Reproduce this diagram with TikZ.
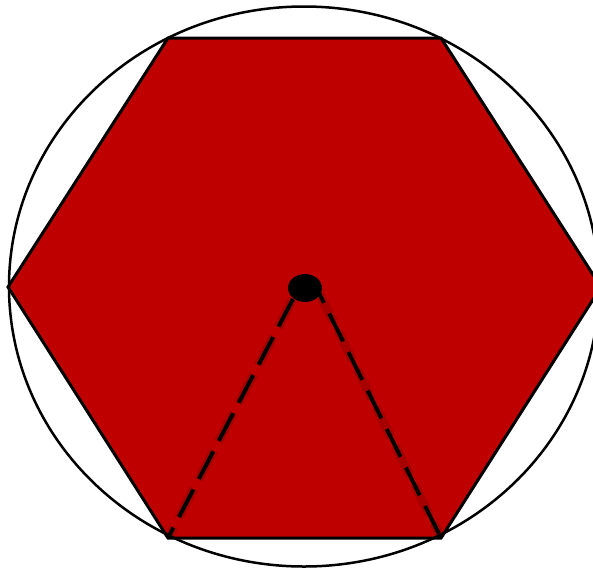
\documentclass[tikz,border=0pt]{standalone}
\usetikzlibrary{calc}
\definecolor{hexred}{RGB}{190,0,0}
\tikzset{
  hexbox/.style={fill=hexred, draw=black, line width=3pt, line join=miter},
  ringline/.style={draw=black, line width=2.5pt},
  dashline/.style={draw=black, line width=4pt, dash pattern=on 31pt off 12pt},
  dashshade/.style={draw=black, draw opacity=0.12, line width=9pt, dash pattern=on 33pt off 10pt, dash phase=1pt},
  centerdot/.style={fill=black}
}
\begin{document}
\begin{tikzpicture}[x=1pt,y=-1pt]
\useasboundingbox (0,0) rectangle (593,570);
\clip (0,0) rectangle (593,570);
\coordinate (c) at (305,288);
\coordinate (sl) at (293,299);
\coordinate (sr) at (319,293);
\coordinate (v1) at (168,38);
\coordinate (v2) at (441,38);
\coordinate (v3) at (601,287);
\coordinate (v4) at (441,538);
\coordinate (v5) at (168,538);
\coordinate (v6) at (8,287);
\draw[hexbox] (v1) -- (v2) -- (v3) -- (v4) -- (v5) -- (v6) -- cycle;
\draw[dashshade] (sl) -- (v5);
\draw[dashshade] (sr) -- (v4);
\draw[dashline] (sl) -- (v5);
\draw[dashline, dash phase=20pt] (sr) -- (v4);
\draw[ringline] (304,286.5) ellipse [x radius=295, y radius=280];
\fill[centerdot] (c) ellipse [x radius=17, y radius=14];
\end{tikzpicture}
\end{document}
